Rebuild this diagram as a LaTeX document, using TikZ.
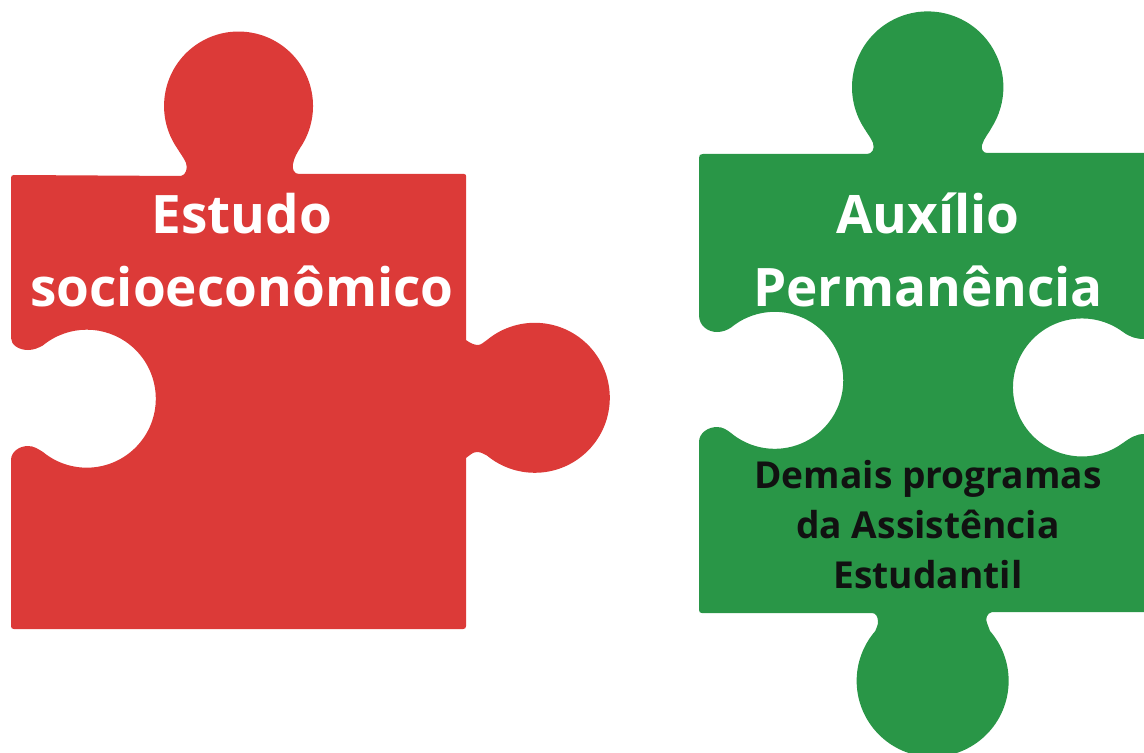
\documentclass[tikz,border=0pt]{standalone}
\usepackage{fontspec}
\setmainfont{Open Sans}
\definecolor{piecered}{HTML}{DC3A38}
\definecolor{piecegreen}{HTML}{299647}
\definecolor{darktext}{HTML}{111111}
\tikzset{
  bigtext/.style={text=white, font=\bfseries\fontsize{39.8}{54.7}\selectfont, align=center, inner sep=0pt},
  smalltext/.style={text=darktext, font=\bfseries\fontsize{27.85}{37.5}\selectfont, align=center, inner sep=0pt},
}
\begin{document}
\begin{tikzpicture}[x=0.75pt, y=-0.75pt]
  \clip (0,0) rectangle (1144,752);

  % red piece
  \fill[piecered] (11,178) .. controls (11,176) and (12,175) .. (14,175) -- (181,176)
    .. controls (186,175) and (188,168) .. (186,163)
    .. controls (184,158) and (180,153) .. (177,148)
    arc[start angle=145.7, end angle=394.3, radius=74.5]
    .. controls (297,153) and (294,158) .. (293,164)
    .. controls (292,169) and (294,174) .. (299,174)
    -- (464,174) .. controls (465.5,174) and (466,175) .. (466,176)
    -- (466,340)
    .. controls (470,343) and (474,345) .. (478,345)
    .. controls (481,345) and (484,342) .. (487,340)
    arc[start angle=-129.6, end angle=129.6, radius=75]
    .. controls (484,454) and (481,452) .. (477,452)
    .. controls (473,452) and (470,455) .. (466,458)
    -- (466,626) .. controls (466,628) and (465,629) .. (463,629)
    -- (14,629) .. controls (12,629) and (11,628) .. (11,626)
    -- (11,460)
    .. controls (11,452) and (19,446) .. (28,446)
    .. controls (34,446) and (38,449) .. (43,452)
    arc[start angle=129.4, end angle=-129.4, radius=69]
    .. controls (38,348) and (34,350) .. (28,350)
    .. controls (19,350) and (11,345) .. (11,338)
    -- cycle;

  % green piece
  \fill[piecegreen] (699,158) .. controls (699,155) and (700,154) .. (703,154) -- (867,154)
    .. controls (872,154) and (875,149) .. (873,143)
    .. controls (871,138) and (867,133) .. (864,128)
    arc[start angle=147.3, end angle=392.7, radius=75.7]
    .. controls (989,133) and (984,138) .. (982,145)
    .. controls (981,149) and (983,153) .. (987,153)
    -- (1144,153) -- (1144,339)
    .. controls (1136,339) and (1130,337) .. (1123,332)
    arc[start angle=-53.5, end angle=-306.5, radius=69]
    .. controls (1130,438) and (1136,434) .. (1144,434)
    -- (1144,612) -- (992,612)
    .. controls (987,613) and (985,619) .. (987,623)
    .. controls (988,626) and (989,628) .. (990,631)
    arc[start angle=-41, end angle=221, radius=76]
    .. controls (876,628) and (878,626) .. (878,622)
    .. controls (878,617) and (876,613) .. (872,613)
    -- (702,613) .. controls (700,613) and (699,612) .. (699,610)
    -- (699,442)
    .. controls (699,433) and (708,427) .. (717,427)
    .. controls (723,427) and (727,430) .. (731,433)
    arc[start angle=129.7, end angle=-129.7, radius=68.5]
    .. controls (727,330) and (723,332) .. (717,332)
    .. controls (708,332) and (699,326) .. (699,315)
    -- cycle;

  \node[bigtext] (estudo) at (242,250) {Estudo\\socioeconômico};
  \node[bigtext] (auxilio) at (928,250) {Auxílio\\Permanência};
  \node[smalltext] (demais) at (928,525) {Demais programas\\da Assistência\\Estudantil};
\end{tikzpicture}
\end{document}
